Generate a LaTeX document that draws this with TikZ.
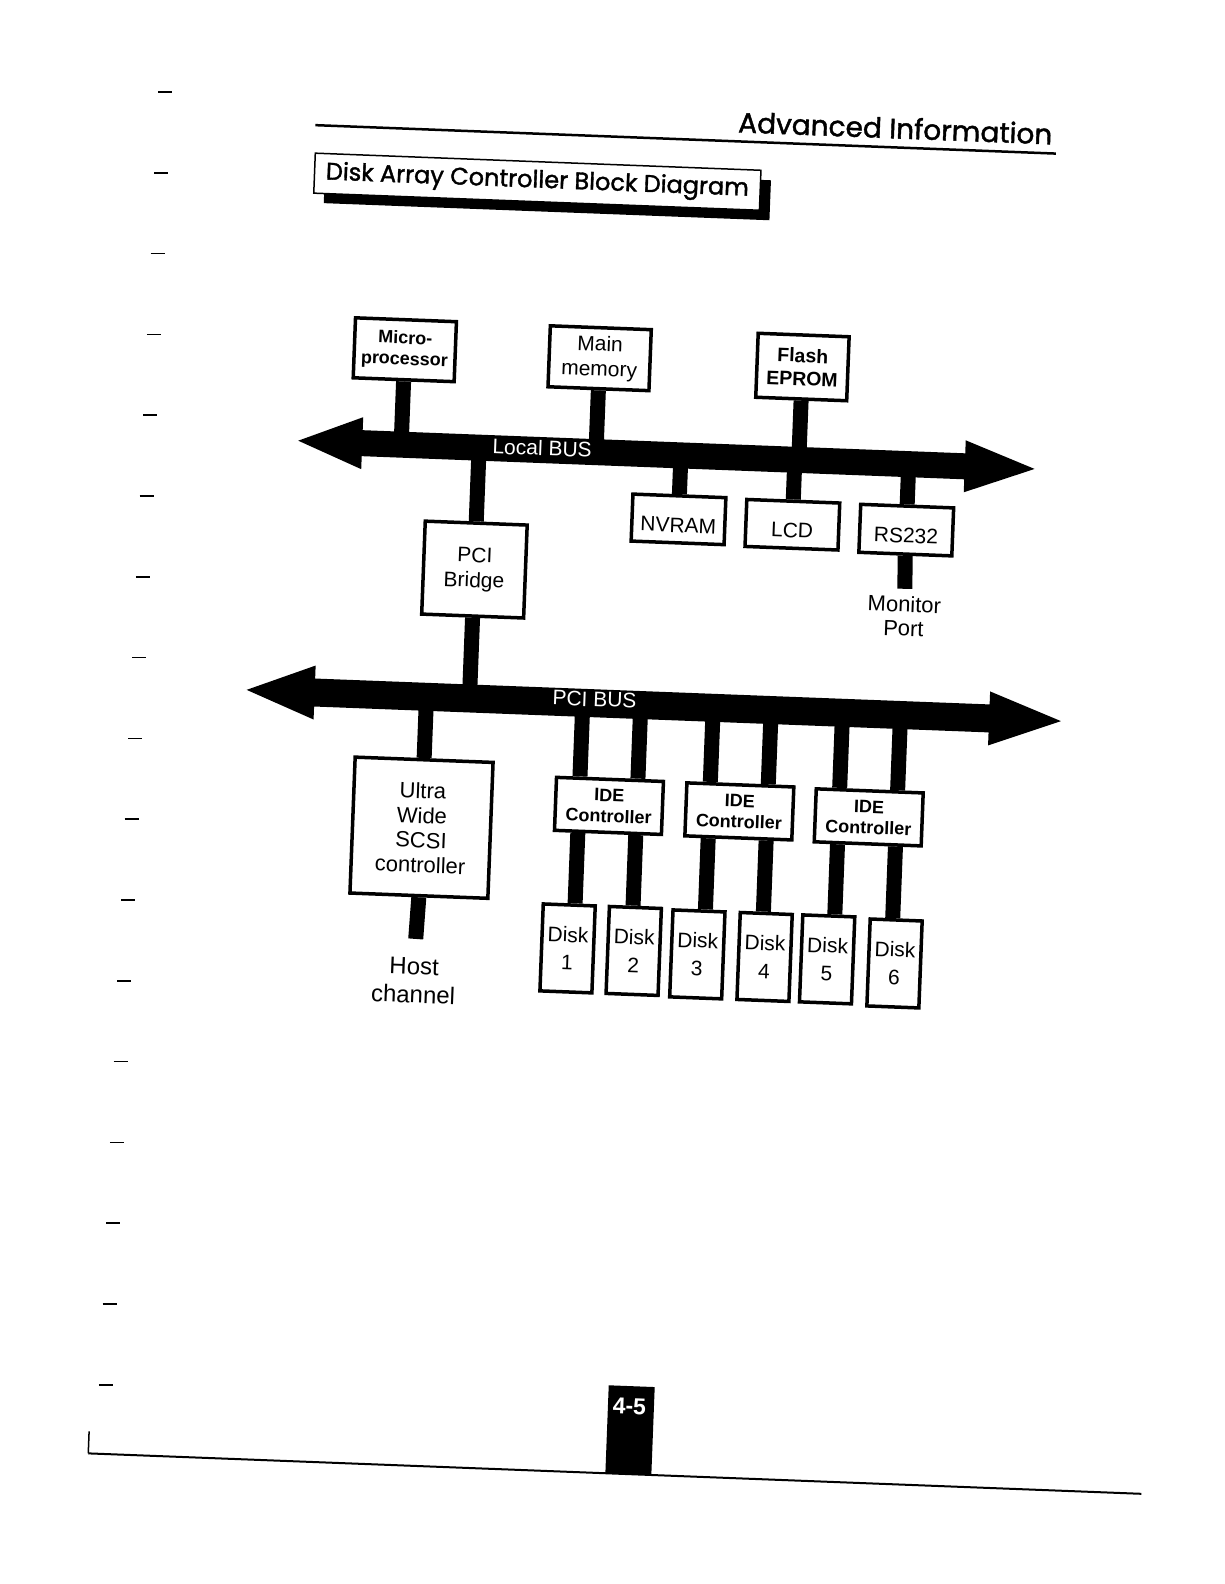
\documentclass[tikz,border=0pt]{standalone}
\usepackage{fontspec}
\setmainfont{Liberation Sans}
\newfontfamily\gothic[FakeBold=1.5]{Poppins}
\usepackage{tikz}
\usetikzlibrary{calc, shadows}

\newcommand{\fsz}[2]{\fontsize{#1}{#2}\selectfont}

\tikzset{
  block/.style={draw, line width=3.5pt, fill=white, inner sep=0pt, align=center},
  smallbox/.style={block, minimum width=93pt, minimum height=47pt, font=\fsz{21}{24}, text height=26pt, text depth=0pt},
  idebox/.style={block, minimum width=107pt, minimum height=53pt, font=\bfseries\fsz{18}{21}},
  diskbox/.style={block, minimum width=52pt, minimum height=87pt, font=\fsz{21}{28}},
  stem/.style={line width=15pt},
  buslabel/.style={text=white, inner sep=0pt, font=\fsz{21}{24}},
}

\begin{document}
\begin{tikzpicture}[x=1pt, y=-1pt]
  \fill[white] (0,0) rectangle (1224,1584);
  \useasboundingbox (0,0) rectangle (1224,1584);

  % marks along the left margin
  \foreach \i in {0,...,16}
    \draw[line width=1.5pt] ({158-3.7*\i},{92+80.8*\i}) -- ++(14,0);

  \begin{scope}[rotate around={-2.2:(612,792)}, transform shape]
    % header
    \draw[line width=2.5pt] (290,137) -- (1031,137);
    \node[anchor=base east, inner sep=0pt, font=\gothic\fsz{28}{30}] (header) at (1027,128) {Advanced Information};
    \node[draw, line width=1.5pt, fill=white, minimum width=446pt, minimum height=40pt, inner sep=0pt,
      font=\gothic\fsz{24}{28}, drop shadow={shadow xshift=10pt, shadow yshift=-10pt, fill=black, opacity=1}]
      (title) at (514,185) {Disk Array Controller Block Diagram};

    % blocks on the local bus
    \node[block, minimum width=101pt, minimum height=60pt, font=\bfseries\fsz{18}{21}] (micro) at (388,358) {Micro-\\processor};
    \node[block, minimum width=101pt, minimum height=61pt, font=\fsz{21}{25}] (mainmem) at (583,359) {Main\\memory};
    \node[block, minimum width=91pt, minimum height=64pt, font=\bfseries\fsz{19.5}{23}] (flash) at (786,360) {Flash\\EPROM};
    \node[smallbox] (nvram) at (668,517) {NVRAM};
    \node[smallbox] (lcd) at (782,518) {LCD};
    \node[smallbox, minimum height=48pt] (rs232) at (896,519) {RS232};
    \node[font=\fsz{22}{24}, align=center, inner sep=4pt] (monitor) at (897,605) {Monitor\\Port};
    \node[block, minimum width=102pt, minimum height=93pt, font=\fsz{21}{25}] (bridge) at (466,575) {PCI\\Bridge};

    % blocks on the PCI bus
    \node[block, minimum width=138pt, minimum height=136pt, font=\fsz{22}{24.7}] (scsi) at (423,835) {Ultra\\Wide\\SCSI\\controller};
    \node[font=\fsz{24}{28}, align=center, inner sep=4pt] (host) at (421,988) {Host\\channel};
    \foreach \n/\x/\y in {1/609.5/806, 2/740/806.5, 3/869.5/807.5}
      \node[idebox] (ide\n) at (\x,\y) {IDE\\Controller};
    \foreach \n/\x/\y in {1/573.6/950, 2/639.8/950, 3/703.5/951, 4/770.8/951, 5/833.4/951, 6/900.9/952.5}
      \node[diskbox] (disk\n) at (\x,\y) {Disk\\\n};

    % bus lines
    \coordinate (lbL) at (285,453);
    \coordinate (lbR) at (1022,453);
    \coordinate (pbL) at (243,704);
    \coordinate (pbR) at (1058,704);

    % stems
    \foreach \n in {micro, mainmem, flash}
      \draw[stem] (\n.south) -- ($(lbL)!(\n.south)!(lbR)$);
    \foreach \n in {bridge, nvram, lcd, rs232}
      \draw[stem] (\n.north) -- ($(lbL)!(\n.north)!(lbR)$);
    \draw[stem] (bridge.south) -- ($(pbL)!(bridge.south)!(pbR)$);
    \draw[stem] (scsi.north) -- ($(pbL)!(scsi.north)!(pbR)$);
    \draw[stem, shorten >=3pt] (rs232.south) -- (monitor.north);
    \draw[stem, shorten >=15pt] (scsi.south) -- (host.north);
    \foreach \n/\a/\b in {ide1/disk1/disk2, ide2/disk3/disk4, ide3/disk5/disk6} {
      \coordinate (\n tl) at ($(\n.north)!30pt!(\n.north west)$);
      \coordinate (\n tr) at ($(\n.north)!28pt!(\n.north east)$);
      \coordinate (\n bl) at ($(\n.south)!30pt!(\n.south west)$);
      \coordinate (\n br) at ($(\n.south)!28pt!(\n.south east)$);
      \draw[stem] (\n tl) -- ($(pbL)!(\n tl)!(pbR)$);
      \draw[stem] (\n tr) -- ($(pbL)!(\n tr)!(pbR)$);
      \draw[stem] (\n bl) -- ($(\a.north west)!(\n bl)!(\a.north east)$);
      \draw[stem] (\n br) -- ($(\b.north west)!(\n br)!(\b.north east)$);
    }

    % the two buses
    \fill (lbL) -- (349,427) -- (349,440) -- (952,440) -- (952,427) -- (lbR)
      -- (952,479) -- (952,466) -- (349,466) -- (349,479) -- cycle;
    \fill (pbL) -- (311,677) -- (311,690) -- (986,690) -- (986,677) -- (pbR)
      -- (986,731) -- (986,718) -- (311,718) -- (311,731) -- cycle;
    \node[buslabel] (lbuslabel) at (529,451) {Local BUS};
    \node[buslabel] (pbuslabel) at (591,700) {PCI BUS};

    % footer
    \draw[line width=2pt] (114,1473) -- (1168,1473);
    \draw[line width=1.5pt] (114,1451) -- (114,1473);
    \node[fill=black, minimum width=46pt, minimum height=88pt, inner sep=0pt] (pagebox) at (654.5,1429) {};
    \node[text=white, inner sep=0pt, font=\bfseries\fsz{23}{26}] (pagenum) at (653,1405) {4-5};
  \end{scope}
\end{tikzpicture}
\end{document}
